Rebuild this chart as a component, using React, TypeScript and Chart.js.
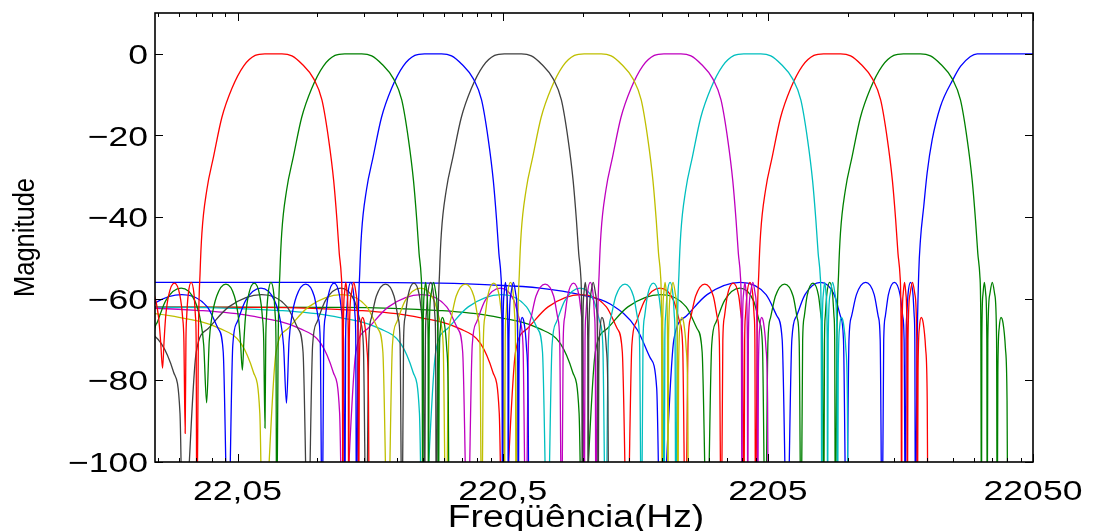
import React, { useEffect, useRef } from 'react';
import { Chart, registerables } from 'chart.js';

Chart.register(...registerables);

// Axis ranges and ticks
const X_MIN = 22050 / 2048;
const X_MAX = 22050;
const Y_MIN = -100;
const Y_MAX = 10;
const xTickValues = [22.05, 220.5, 2205, 22050];
const xTickLabels = ['22,05', '220,5', '2205', '22050'];
const xMinorBases = [2.205, 22.05, 220.5, 2205];
const xMinorMultipliers = [2, 3, 4, 5, 6, 7, 8, 9];
const yTickValues = [0, -20, -40, -60, -80, -100];
const yTickLabels = ['0', '−20', '−40', '−60', '−80', '−100'];
const xTitle = 'Freqüência(Hz)';
const yTitle = 'Magnitude';

// Band-pass prototype response (Hz / dB)
const protoHz = [
  1, 54, 128, 198, 305, 364, 405, 428, 439,
  493, 547, 654, 870, 1085, 1192, 1246, 1300,
  1354, 1407, 1515, 1729, 1944, 2051, 2104, 2158,
  2207, 2256, 2354, 2550, 2747, 2845, 2894, 2943,
  2983, 3023, 3103, 3262, 3422, 3502, 3542, 3582,
  3606, 3630, 3678, 3773, 3869, 3916, 3940, 3964,
  4016, 4080, 4141, 4324, 4583, 4925, 5373, 5948, 6579, 7156, 8296, 9050, 9871,
  10956, 11746, 12452, 13005, 13383, 13653, 13892, 14013, 14095,
  14140, 14274, 14453, 14632, 14766, 14811,
  14895, 15147, 15483, 15819, 16071, 16155,
  16250, 16450, 16700, 17000, 17350, 17600, 17712,
];
const protoDb = [
  -62, -62.1, -62.9, -64.2, -67.4, -71, -78, -88, -120,
  -73, -67.3, -62, -59, -62, -67.3, -73, -120,
  -71.4, -65.7, -60.4, -57.4, -60.4, -65.7, -71.4, -120,
  -70.4, -64.7, -59.4, -56.4, -59.4, -64.7, -70.4, -120,
  -70.2, -64.5, -59.2, -56.2, -59.2, -64.5, -70.2, -120,
  -70, -64.3, -59, -56, -59, -64.3, -70, -120,
  -70, -53, -44, -33.3, -25.2, -15.6, -8.5, -3, -0.4, 0, 0, -0.5, -2.5,
  -6.2, -11.3, -21, -31, -40.7, -48.9, -54.2, -65, -120,
  -70, -59, -56, -59, -70, -120,
  -70, -59, -56, -59, -70, -120,
  -78, -67, -64.6, -66, -72, -85, -120,
];
const ZERO_DB = -120;

// Octave band-pass bands: frequency divisor of the prototype, and colour
const bandDivisors = [256, 128, 64, 32, 16, 8, 4, 2, 1];
const bandColors = [
  '#ff0000', '#008000', '#0000ff', '#404040', '#bfbf00',
  '#bf00bf', '#00bfbf', '#ff0000', '#008000',
];
// Lowest level actually reached at each prototype zero (coarsely sampled low bands)
const bandDipFloors: (number | null)[][] = [
  [null, null, null, -77, -93, null, null, null, null, null],
  [null, null, -85.5, -77.5, -91.7, null, null, null, null, null],
  [null, null, -85.6, null, null, null, null, null, null, null],
];

// High-pass (top) band
const hpHz = [
  1, 54, 128, 198, 305, 432, 561, 708, 794, 840, 866.5,
  975, 1084, 1301, 1736, 2171, 2389, 2497, 2606,
  2716, 2826, 3045, 3484, 3923, 4143, 4252, 4362,
  4461, 4560, 4759, 5155, 5552, 5750, 5849, 5948,
  6031, 6115, 6282, 6615, 6949, 7115, 7199, 7282,
  7323, 7365, 7447, 7612, 7778, 7860, 7902, 7943,
  8047, 8174, 8296, 8537, 8793, 9184, 9871, 11023, 11746, 12809, 13581, 22050,
];
const hpDb = [
  -56, -56, -56.2, -56.6, -57.4, -59, -61.3, -67.5, -74.5, -82, -120,
  -70, -64.3, -59, -56, -59, -64.3, -70, -120,
  -70, -64.3, -59, -56, -59, -64.3, -70, -120,
  -70, -64.3, -59, -56, -59, -64.3, -70, -120,
  -70, -64.3, -59, -56, -59, -64.3, -70, -120,
  -70, -64.3, -59, -56, -59, -64.3, -70, -120,
  -75, -53.8, -45.6, -37.4, -29.2, -21.1, -12.9, -6.2, -3.1, -0.65, 0, 0,
];
const hpColor = '#0000ff';

const FONT_FAMILY = '"Liberation Sans", Arial, Helvetica, sans-serif';
const TICK_FONT_PX = 28;
const TICK_STRETCH = 1.27;
const XTITLE_FONT_PX = 31;
const XTITLE_STRETCH = 1.2;
const YTITLE_FONT_PX = 25.5;
const YTITLE_STRETCH = 1.15;

function drawText(
  ctx: CanvasRenderingContext2D,
  text: string,
  x: number,
  y: number,
  sizePx: number,
  sx: number,
  sy: number,
  align: CanvasTextAlign,
  baseline: CanvasTextBaseline,
  rotation = 0,
) {
  ctx.save();
  ctx.translate(x, y);
  if (rotation) ctx.rotate(rotation);
  ctx.scale(sx, sy);
  ctx.font = `${sizePx}px ${FONT_FAMILY}`;
  ctx.fillStyle = '#000';
  ctx.textAlign = align;
  ctx.textBaseline = baseline;
  ctx.fillText(text, 0, 0);
  ctx.restore();
}

const framePlugin = {
  id: 'matlabFrame',
  afterDraw(chart: any) {
    const { ctx, chartArea: a, scales } = chart;
    const xs = scales.x;
    const ys = scales.y;
    ctx.save();
    ctx.strokeStyle = '#000';
    ctx.lineWidth = 1;
    const majorLen = 8;
    const minorLen = 4;
    ctx.beginPath();
    yTickValues.forEach((v) => {
      const py = Math.round(ys.getPixelForValue(v)) + 0.5;
      ctx.moveTo(a.left, py);
      ctx.lineTo(a.left + majorLen, py);
      ctx.moveTo(a.right, py);
      ctx.lineTo(a.right - majorLen, py);
    });
    xTickValues.forEach((v) => {
      const px = Math.round(xs.getPixelForValue(v)) + 0.5;
      ctx.moveTo(px, a.bottom);
      ctx.lineTo(px, a.bottom - majorLen);
      ctx.moveTo(px, a.top);
      ctx.lineTo(px, a.top + majorLen);
    });
    xMinorBases.forEach((b) => {
      xMinorMultipliers.forEach((m) => {
        const v = b * m;
        if (v <= X_MIN || v >= X_MAX) return;
        const px = Math.round(xs.getPixelForValue(v)) + 0.5;
        ctx.moveTo(px, a.bottom);
        ctx.lineTo(px, a.bottom - minorLen);
        ctx.moveTo(px, a.top);
        ctx.lineTo(px, a.top + minorLen);
      });
    });
    ctx.stroke();
    ctx.lineWidth = 1.6;
    ctx.strokeRect(a.left, a.top, a.right - a.left, a.bottom - a.top);
    ctx.restore();

    // tick labels
    yTickValues.forEach((v, i) => {
      const py = ys.getPixelForValue(v);
      drawText(ctx, yTickLabels[i], a.left - 7, py + 0.36 * TICK_FONT_PX, TICK_FONT_PX, TICK_STRETCH, 1, 'right', 'alphabetic');
    });
    xTickValues.forEach((v, i) => {
      const px = xs.getPixelForValue(v);
      drawText(ctx, xTickLabels[i], px, a.bottom + 38, TICK_FONT_PX, TICK_STRETCH, 1, 'center', 'alphabetic');
    });
    // axis titles
    drawText(ctx, xTitle, 576, 527, XTITLE_FONT_PX, XTITLE_STRETCH, 1, 'center', 'alphabetic');
    drawText(ctx, yTitle, 26, (a.top + a.bottom) / 2, YTITLE_FONT_PX, 1, YTITLE_STRETCH, 'center', 'middle', -Math.PI / 2);
  },
};

export default function App() {
  const ref = useRef<HTMLCanvasElement>(null);

  useEffect(() => {
    if (!ref.current) return;
    const datasets: any[] = bandDivisors.map((d, i) => {
      const floors = bandDipFloors[i] || [];
      let zeroCount = 0;
      const data = protoHz.map((f, j) => {
        let y = protoDb[j];
        if (y <= ZERO_DB) {
          const fl = floors[zeroCount];
          if (fl !== null && fl !== undefined) y = fl;
          zeroCount += 1;
        }
        return { x: f / d, y };
      });
      return {
        label: `Banda ${i + 1}`,
        data,
        borderColor: bandColors[i],
        borderWidth: 1.3,
        pointRadius: 0,
        fill: false,
        cubicInterpolationMode: 'monotone',
      };
    });
    datasets.push({
      label: 'Banda 10',
      data: hpHz.map((f, j) => ({ x: f, y: hpDb[j] })),
      borderColor: hpColor,
      borderWidth: 1.3,
      pointRadius: 0,
      fill: false,
      cubicInterpolationMode: 'monotone',
    });

    const chart = new Chart(ref.current, {
      type: 'line',
      data: { datasets },
      options: {
        animation: false,
        responsive: true,
        maintainAspectRatio: false,
        devicePixelRatio: 1,
        layout: { padding: { left: 0, right: 80, top: 13, bottom: 0 } },
        plugins: { legend: { display: false }, tooltip: { enabled: false } },
        scales: {
          x: {
            type: 'logarithmic',
            min: X_MIN,
            max: X_MAX,
            bounds: 'data',
            grid: { display: false, drawTicks: false },
            border: { display: false },
            afterBuildTicks: (s: any) => {
              s.ticks = xTickValues.map((v) => ({ value: v }));
            },
            afterFit: (s: any) => {
              s.height = 69;
              s.paddingLeft = 0;
              s.paddingRight = 0;
            },
            ticks: { display: false },
            title: { display: false },
          },
          y: {
            type: 'linear',
            min: Y_MIN,
            max: Y_MAX,
            grid: { display: false, drawTicks: false },
            border: { display: false },
            afterBuildTicks: (s: any) => {
              s.ticks = yTickValues.map((v) => ({ value: v }));
            },
            afterFit: (s: any) => {
              s.width = 155;
              s.paddingTop = 0;
              s.paddingBottom = 0;
            },
            ticks: { display: false },
            title: { display: false },
          },
        },
      },
      plugins: [framePlugin],
    } as any);
    return () => chart.destroy();
  }, []);

  return (
    <div style={{ position: 'fixed', left: 0, top: 0, width: 1113, height: 531, background: '#fff' }}>
      <canvas ref={ref} />
    </div>
  );
}
